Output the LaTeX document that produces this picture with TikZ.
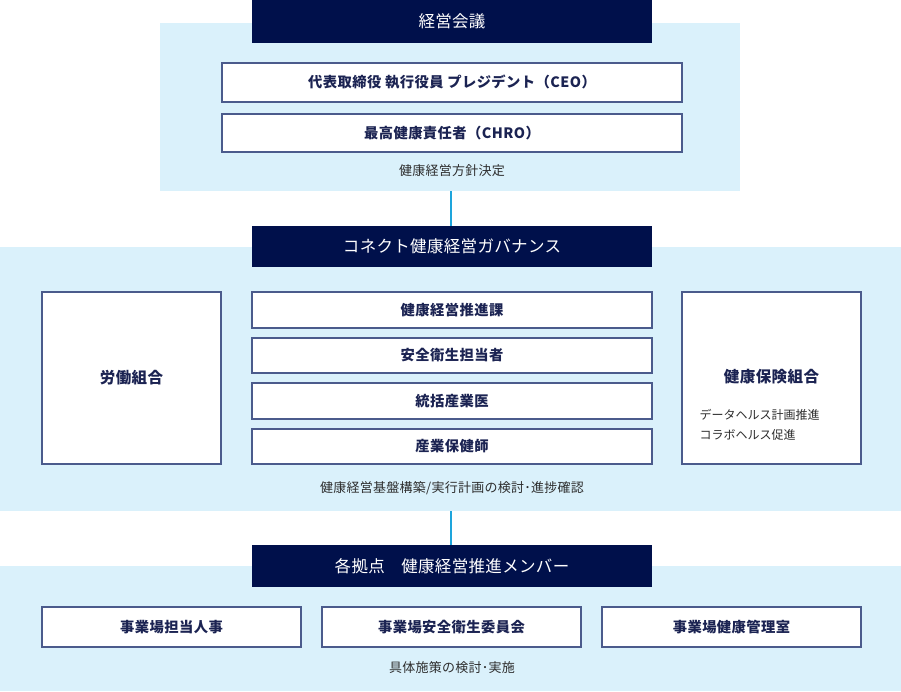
\documentclass[tikz,border=0pt]{standalone}
\usepackage{fontspec}
\setmainfont{Noto Sans CJK JP}
\newfontfamily\jp{Noto Sans CJK JP}
\newfontfamily\jpsp{Noto Sans CJK JP}[LetterSpace=3]
\newfontfamily\jpcap{Noto Sans CJK JP}[LetterSpace=2]
\definecolor{navy}{HTML}{00104B}
\definecolor{panel}{HTML}{DAF1FB}
\definecolor{edge}{HTML}{4B5B8C}
\definecolor{ink}{HTML}{1B2352}
\definecolor{cap}{HTML}{2E2E2E}
\definecolor{link}{HTML}{1EA5DC}
\begin{document}
\begin{tikzpicture}[x=1pt,y=-1pt,
  panelbox/.style={fill=panel,draw=none},
  headbox/.style={fill=navy,draw=none,text=white,font=\jpcap\fontsize{16.5}{19}\selectfont},
  whitebox/.style={fill=white,draw=edge,line width=1.2pt,text=ink,font=\jpsp\bfseries\fontsize{14.3}{17}\selectfont},
  captext/.style={text=cap,font=\jpcap\fontsize{13}{15}\selectfont},
  linkline/.style={draw=link,line width=1.5pt}]
\useasboundingbox (0,0) rectangle (901,691);
% panels
\fill[panelbox] (160,23) rectangle (740,191);
\fill[panelbox] (0,247) rectangle (901,511);
\fill[panelbox] (0,566) rectangle (901,691);
% connectors
\coordinate (c1) at (451,191);
\coordinate (c2) at (451,511);
% headers
\node[headbox,minimum width=400pt,minimum height=43pt,inner sep=0pt] (h1) at (452,21.5) {経営会議};
\node[headbox,minimum width=400pt,minimum height=41pt,inner sep=0pt] (h2) at (452,246.5) {コネクト健康経営ガバナンス};
\node[headbox,minimum width=400pt,minimum height=42pt,inner sep=0pt] (h3) at (452,566) {各拠点\hspace{1em}健康経営推進メンバー};
\draw[linkline] (c1) -- (h2.north -| c1);
\draw[linkline] (c2) -- (h3.north -| c2);
% top panel
\node[whitebox,minimum width=460pt,minimum height=39pt,inner sep=0pt] (ceo) at (452,82.5) {代表取締役 執行役員 プレジデント（CEO）};
\node[whitebox,minimum width=460pt,minimum height=38pt,inner sep=0pt] (chro) at (452,133) {最高健康責任者（CHRO）};
\node[captext] (cap1) at (452,171) {健康経営方針決定};
% middle panel
\node[whitebox,minimum width=179pt,minimum height=172pt,inner sep=0pt,font=\jpsp\bfseries\fontsize{15.5}{18}\selectfont] (union) at (131.5,378) {労働組合};
\node[whitebox,minimum width=400pt,minimum height=36pt,inner sep=0pt] (m1) at (452,310) {健康経営推進課};
\node[whitebox,minimum width=400pt,minimum height=35pt,inner sep=0pt] (m2) at (452,355.5) {安全衛生担当者};
\node[whitebox,minimum width=400pt,minimum height=36pt,inner sep=0pt] (m3) at (452,401) {統括産業医};
\node[whitebox,minimum width=400pt,minimum height=35pt,inner sep=0pt] (m4) at (452,446.5) {産業保健師};
\node[whitebox,minimum width=179pt,minimum height=172pt,inner sep=0pt] (kenpo) at (771.5,378) {};
\node[text=ink,font=\jpsp\bfseries\fontsize{15.5}{18}\selectfont] (kenpot) at (771.5,377) {健康保険組合};
\node[captext,anchor=west,align=left,font=\jp\fontsize{12}{20}\selectfont] (kenpol) at (696,425) {データヘルス計画推進\\コラボヘルス促進};
\node[captext] (cap2) at (452,488) {健康経営基盤構築/実行計画の検討･進捗確認};
% bottom panel
\node[whitebox,minimum width=259pt,minimum height=40pt,inner sep=0pt] (b1) at (171.5,627) {事業場担当人事};
\node[whitebox,minimum width=259pt,minimum height=40pt,inner sep=0pt] (b2) at (451.5,627) {事業場安全衛生委員会};
\node[whitebox,minimum width=259pt,minimum height=40pt,inner sep=0pt] (b3) at (731.5,627) {事業場健康管理室};
\node[captext] (cap3) at (452,668) {具体施策の検討･実施};
\end{tikzpicture}
\end{document}
